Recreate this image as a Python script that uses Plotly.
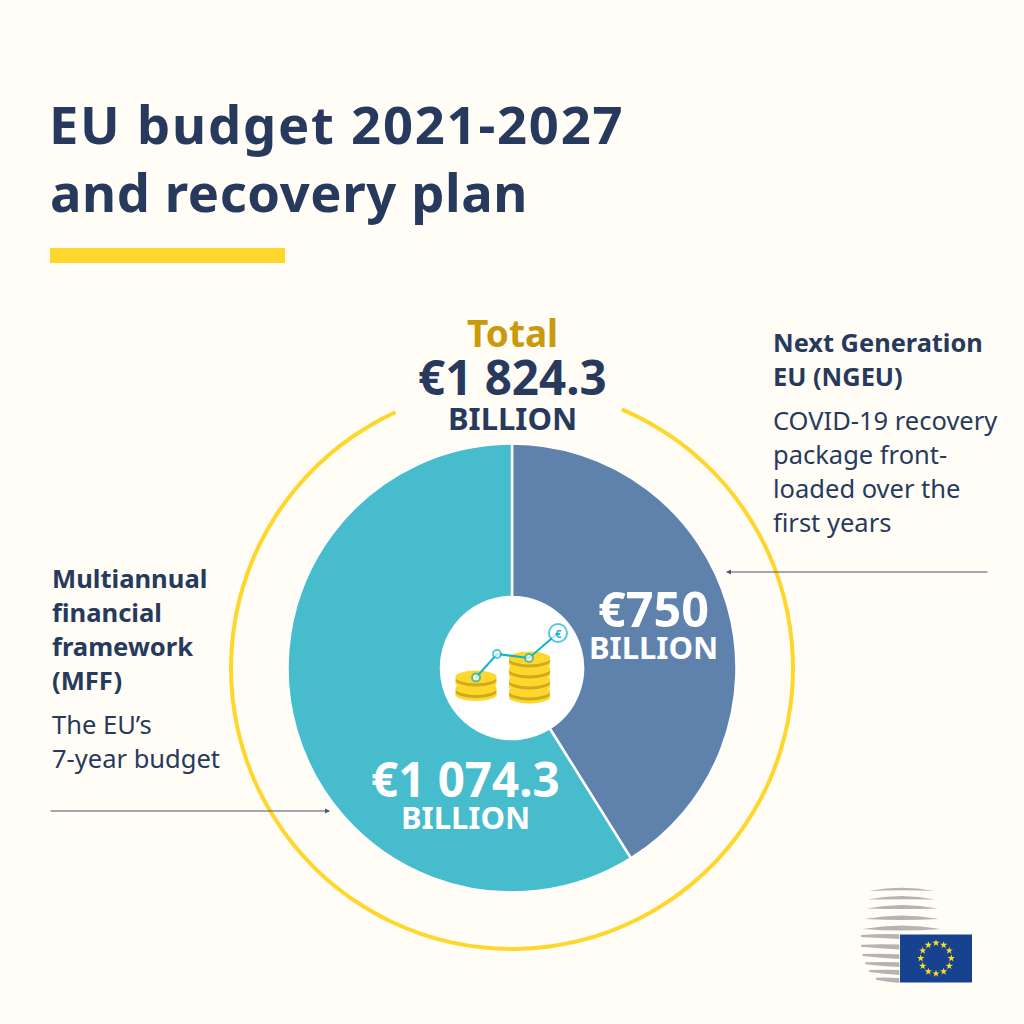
import math
import plotly.graph_objects as go

# --- data ---
categories = ["Next Generation EU (NGEU)", "Multiannual financial framework (MFF)"]
values_billion = [750, 1074.3]
slice_colors = ["#5F82AD", "#47BCCD"]
ring_parts = [23, 312.5, 24.5]
trend_x = [476, 497, 529, 558]
trend_y = [677.5, 654, 658, 633]

BG = "#FFFDF5"
NAVY = "#273A5E"
YELLOW = "#FFD62B"
TEAL = "#0FB5C6"
FONT = "Noto Sans"
W = 1024
CX, CY = 512, 668


def dom(cx, cy, r):
    return dict(x=[(cx - r) / W, (cx + r) / W], y=[1 - (cy + r) / W, 1 - (cy - r) / W])


fig = go.Figure()

fig.add_trace(go.Pie(
    labels=categories, values=values_billion, sort=False, direction="clockwise", rotation=0,
    hole=71 / 224.5, domain=dom(CX, CY, 224.5), textinfo="none", hoverinfo="skip", showlegend=False,
    marker=dict(colors=slice_colors, line=dict(color="#FFFFFF", width=2.5)),
))
fig.add_trace(go.Pie(
    labels=["gap right", "ring", "gap left"], values=ring_parts, sort=False, direction="clockwise", rotation=0,
    hole=279 / 283, domain=dom(CX, CY, 283), textinfo="none", hoverinfo="skip", showlegend=False,
    marker=dict(colors=["rgba(0,0,0,0)", YELLOW, "rgba(0,0,0,0)"], line=dict(width=0)),
))

shapes = [dict(type="rect", x0=50, x1=285, y0=248, y1=263, fillcolor=YELLOW, line_width=0, layer="above")]


def ell(cx, cy, rx, ry, color):
    shapes.append(dict(type="circle", x0=cx - rx, x1=cx + rx, y0=cy - ry, y1=cy + ry,
                       fillcolor=color, line_width=0, layer="below"))


# white hub disc and coin stacks
ell(CX, CY, 71, 71, "#FFFFFF")
DARK = "#CDAA1E"
for cx, n, top, step in [(476, 2, 677, 11.5), (529.5, 4, 658, 11)]:
    for k in range(n - 1, -1, -1):
        c = top + k * step
        ell(cx, c + 6, 20.7, 6.5, YELLOW)
        ell(cx, c + 3, 20.7, 6.5, DARK)
        ell(cx, c, 20.7, 6.5, YELLOW)

# trend line over the coins
fig.add_trace(go.Scatter(
    x=trend_x, y=trend_y, mode="lines+markers", hoverinfo="skip", showlegend=False,
    line=dict(color=TEAL, width=2),
    marker=dict(size=[8, 8, 8, 18], color="#FFFFFF", line=dict(color=TEAL, width=2)),
))

# Council logo
GREY = "#B4B4B4"
for l, r, y, rise, th in [(869, 934, 891, 3.3, 2.6), (867.5, 935.5, 899.5, 3.5, 3.3), (866.5, 938, 908.5, 3.5, 4),
                          (864.5, 939, 919, 3.5, 4.5), (862.5, 941, 929, 3.5, 5)]:
    m = (l + r) / 2
    shapes.append(dict(type="path", fillcolor=GREY, line_width=0, layer="above",
                       path=f"M {l} {y} Q {m} {y - 2 * rise} {r} {y} Q {m} {y - 2 * rise + 2 * th} {l} {y} Z"))
for l, yl, yc in [(861, 936, 936.7), (861, 945.7, 947), (862.5, 955, 956.7), (865.3, 963.3, 964.7),
                  (869.3, 971, 972.5), (876, 978.7, 980.5)]:
    r = 899.3
    m = (l + r) / 2
    shapes.append(dict(type="path", fillcolor=GREY, line_width=0, layer="above",
                       path=f"M {l} {yl - 1} Q {m} {yc - 3.2} {r} {yc - 2.4} L {r} {yc + 2.4} "
                            f"Q {m} {yc + 1.5} {l} {yl + 1} Z"))
shapes.append(dict(type="rect", x0=900, x1=972, y0=934.5, y1=982.5, fillcolor="#17428F", line_width=0, layer="below"))

star_x = [936 + 15.3 * math.sin(math.radians(a)) for a in range(0, 360, 30)]
star_y = [958.3 + 15.3 * math.cos(math.radians(a)) for a in range(0, 360, 30)]
fig.add_trace(go.Scatter(x=star_x, y=star_y, mode="markers", hoverinfo="skip", showlegend=False,
                         marker=dict(symbol="star", size=5.5, color="#FFE01A", line_width=0)))

ann = []


def text(x, y, s, size, color=NAVY, bold=False, anchor="left"):
    ann.append(dict(x=x, y=y, text=f"<b>{s}</b>" if bold else s, showarrow=False, xanchor=anchor, yanchor="middle",
                    font=dict(family=FONT, size=size, color=color), xref="x", yref="y"))


text(63.5, 123, "EU budget 2021-2027", 52.5, bold=True)
text(52.5, 191, "and recovery plan", 52.5, bold=True)

text(512, 332, "Total", 37, "#C99A0C", True, "center")
text(512, 376, "€1 824.3", 47.5, NAVY, True, "center")
text(512, 418, "BILLION", 31, NAVY, True, "center")

text(771, 342, "Next Generation", 25.4, bold=True)
text(771, 376, "EU (NGEU)", 25.4, bold=True)
for y, s in zip([420, 454, 488, 522], ["COVID-19 recovery", "package front-", "loaded over the", "first years"]):
    text(771, y, s, 25.5)

for y, s in zip([578, 612, 646, 680], ["Multiannual", "financial", "framework", "(MFF)"]):
    text(49.5, y, s, 25.6, bold=True)
text(49.5, 724, "The EU’s", 25.5)
text(49.5, 758, "7-year budget", 25.5)

text(653, 608, "€750", 48.5, "#FFFFFF", True, "center")
text(653, 647, "BILLION", 31, "#FFFFFF", True, "center")
text(465, 778, "€1 074.3", 47.5, "#FFFFFF", True, "center")
text(465, 817, "BILLION", 31, "#FFFFFF", True, "center")
text(558, 633, "€", 11, TEAL, True, "center")

for x0, x1, y in [(989, 726, 572), (49, 330, 811)]:
    ann.append(dict(x=x1, y=y, ax=x0, ay=y, xref="x", yref="y", axref="x", ayref="y", text="", showarrow=True,
                    arrowhead=2, arrowsize=1, arrowwidth=1, arrowcolor="#46546F"))

fig.update_layout(
    width=W, height=W, margin=dict(l=0, r=0, t=0, b=0),
    paper_bgcolor=BG, plot_bgcolor="rgba(0,0,0,0)", showlegend=False,
    xaxis=dict(range=[0, W], visible=False, fixedrange=True),
    yaxis=dict(range=[W, 0], visible=False, fixedrange=True),
    shapes=shapes, annotations=ann,
)

post = """
document.body.style.margin='0';document.body.style.overflow='hidden';
document.querySelectorAll('.annotation-text').forEach(function(t){
  if(t.textContent.indexOf('EU budget')===0){t.style.letterSpacing='1.8px';}
  if(t.textContent.indexOf('and recovery')===0){t.style.letterSpacing='0.6px';}
});
"""
fig.write_html("out.html", config={"displayModeBar": False}, post_script=post)
